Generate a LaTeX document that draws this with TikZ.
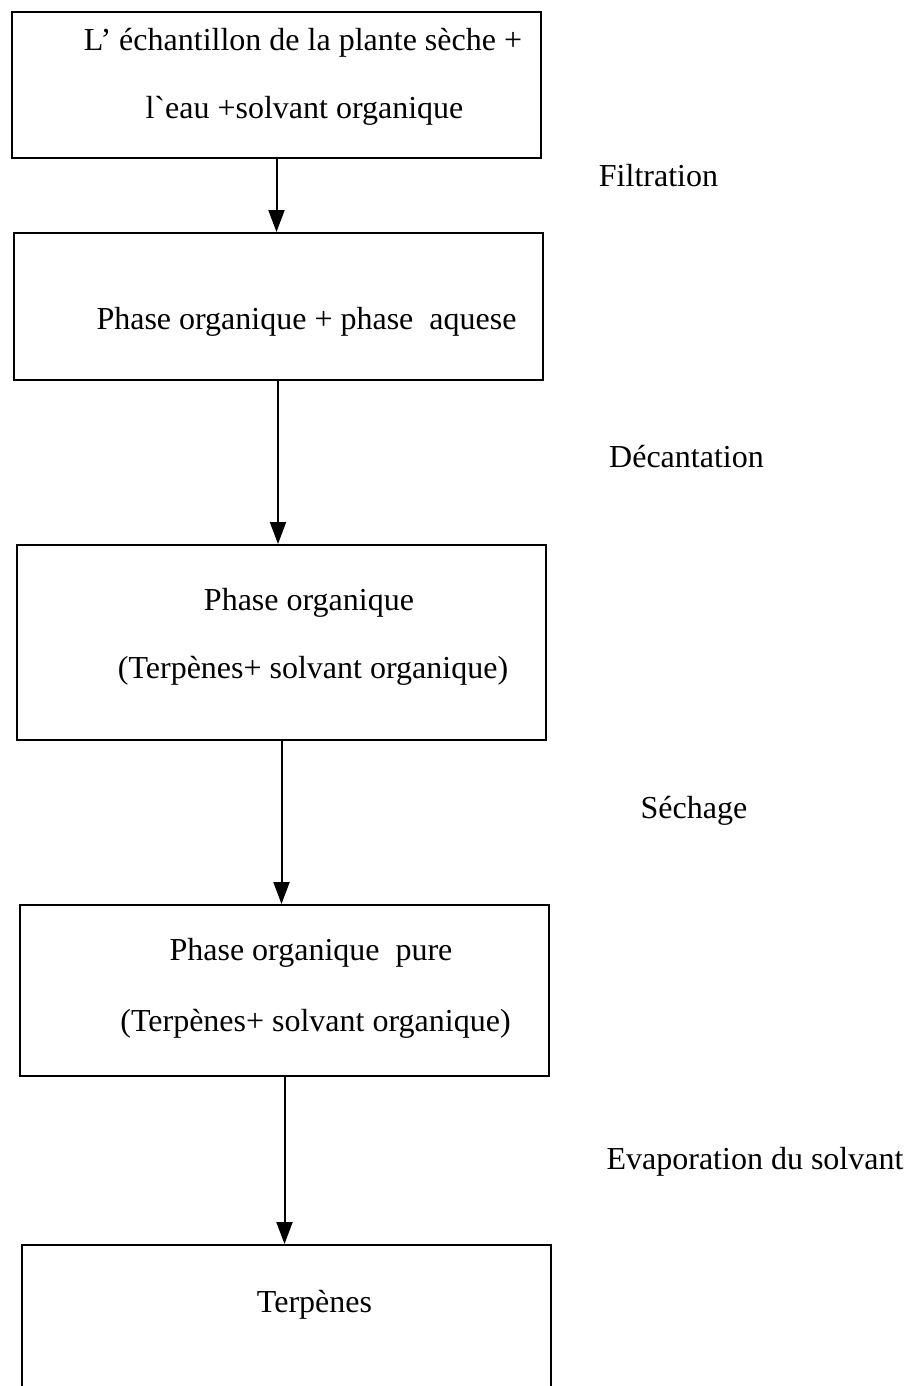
\documentclass[tikz,border=0pt]{standalone}
\usepackage{fontspec}
\setmainfont{Liberation Serif}
\usetikzlibrary{arrows.meta}
\begin{document}
\begin{tikzpicture}[x=1pt,y=-1pt,
  box/.style={draw,line width=2pt,inner sep=0pt,minimum width=529pt},
  txt/.style={font=\fontsize{32}{38}\selectfont,anchor=base,inner sep=0pt},
  conn/.style={line width=2pt,-{Triangle[width=16pt,length=22pt]}}]
\clip (0,0) rectangle (906,1386);
\fill[white] (0,0) rectangle (906,1386);
% boxes
\node[box,minimum height=146pt] (b1) at (276.5,85) {};
\node[box,minimum height=147pt] (b2) at (278,306.5) {};
\node[box,minimum height=195pt] (b3) at (281.5,642.5) {};
\node[box,minimum height=171pt] (b4) at (284.5,990.5) {};
\node[box,minimum height=185pt] (b5) at (286.5,1337.5) {};
% box texts
\node[txt] (t1a) at (303,51) {L’ échantillon de la plante sèche +};
\node[txt] (t1b) at (304.5,118) {lˋeau +solvant organique};
\node[txt] (t2) at (306.5,329) {Phase organique + phase\ \ aquese};
\node[txt] (t3a) at (309,610) {Phase organique};
\node[txt] (t3b) at (313,678) {(Terpènes+ solvant organique)};
\node[txt] (t4a) at (311,960) {Phase organique\ \ pure};
\node[txt] (t4b) at (315.5,1031) {(Terpènes+ solvant organique)};
\node[txt] (t5) at (314.5,1312) {Terpènes};
% step labels
\node[txt] (l1) at (658.5,186) {Filtration};
\node[txt] (l2) at (686.5,467) {Décantation};
\node[txt] (l3) at (694,818) {Séchage};
\node[txt] (l4) at (755,1169) {Evaporation du solvant};
% connectors
\draw[conn] (b1.south) -- (b1.south |- b2.north);
\draw[conn] (b2.south) -- (b2.south |- b3.north);
\draw[conn] (b3.south) -- (b3.south |- b4.north);
\draw[conn] (b4.south) -- (b4.south |- b5.north);
\end{tikzpicture}
\end{document}
